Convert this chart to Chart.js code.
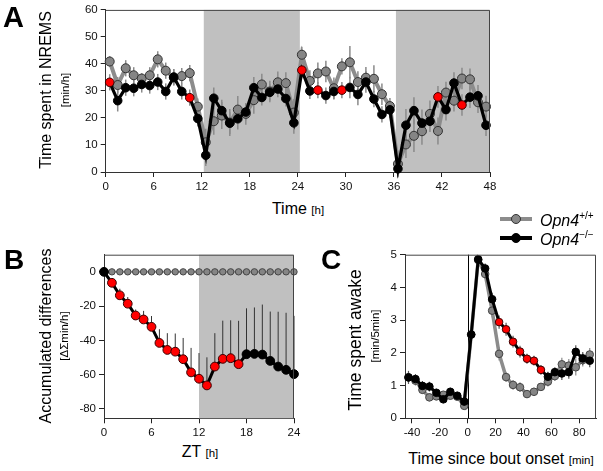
<!DOCTYPE html>
<html><head><meta charset="utf-8">
<script src="https://cdn.jsdelivr.net/npm/chart.js@4/dist/chart.umd.min.js"></script>
<style>
body{margin:0;background:#fff;}
#wrap{position:relative;width:603px;height:471px;overflow:hidden;font-family:"Liberation Sans",Arial,sans-serif;background:#fff;}
canvas{position:absolute;}
.t{position:absolute;white-space:nowrap;color:#000;line-height:1;}
.rot{transform:translate(-50%,-50%) rotate(-90deg);}
.hc{transform:translate(-50%,-50%);}
.big{font-size:16px;}
.sm{font-size:11.5px;}
.let{position:absolute;font-weight:bold;line-height:1;}
</style></head>
<body><div id="wrap">
<canvas id="cA" width="500" height="200" style="left:0;top:0"></canvas>
<canvas id="cB" width="310" height="200" style="left:0;top:240px"></canvas>
<canvas id="cC" width="293" height="200" style="left:310px;top:240px"></canvas>

<div class="let" style="left:3px;top:3px;font-size:29px">A</div>
<div class="let" style="left:4px;top:246px;font-size:28px">B</div>
<div class="let" style="left:321px;top:246px;font-size:28px">C</div>

<div class="t rot big" style="left:46px;top:90px">Time spent in NREMS</div>
<div class="t rot sm" style="left:66px;top:90px">[min/h]</div>
<div class="t hc" style="left:298px;top:209px"><span class="big">Time </span><span class="sm">[h]</span></div>

<div class="t rot big" style="left:46px;top:336px">Accumulated differences</div>
<div class="t rot sm" style="left:65px;top:336px">[ΔΣmin/h]</div>
<div class="t hc" style="left:200px;top:452px"><span class="big">ZT </span><span class="sm">[h]</span></div>

<div class="t rot" style="left:356px;top:340px;font-size:17.5px">Time spent awake</div>
<div class="t rot sm" style="left:376px;top:336px">[min/5min]</div>
<div class="t hc" style="left:501px;top:459px"><span class="big">Time since bout onset </span><span class="sm">[min]</span></div>

<div style="position:absolute;left:500px;top:217px;width:32px;height:4px;background:#8c8c8c"></div>
<div style="position:absolute;left:511px;top:214px;width:8px;height:8px;border-radius:50%;background:#888;border:1px solid #333"></div>
<div class="t" style="left:540px;top:211px;font-size:16px"><i>Opn4</i><sup style="font-size:10px;vertical-align:7px">+/+</sup></div>
<div style="position:absolute;left:500px;top:236px;width:32px;height:3.5px;background:#000"></div>
<div style="position:absolute;left:511px;top:233px;width:8px;height:8px;border-radius:50%;background:#000;border:1px solid #000"></div>
<div class="t" style="left:540px;top:230px;font-size:16px"><i>Opn4</i><sup style="font-size:10px;vertical-align:7px">−/−</sup></div>
</div>
<script>
// ---------- Panel A data ----------
const hoursA = [0.5,1.5,2.5,3.5,4.5,5.5,6.5,7.5,8.5,9.5,10.5,11.5,12.5,13.5,14.5,15.5,16.5,17.5,18.5,19.5,20.5,21.5,22.5,23.5,
  24.5,25.5,26.5,27.5,28.5,29.5,30.5,31.5,32.5,33.5,34.5,35.5,36.5,37.5,38.5,39.5,40.5,41.5,42.5,43.5,44.5,45.5,46.5,47.5];
const wtA = [40.9,32.2,38.4,35.8,34.6,35.8,41.7,37.5,35.0,35.5,36.6,24.2,11.0,18.8,20.9,18.3,23.1,21.5,26.6,32.4,29.8,33.2,32.9,22.0,
  43.4,33.7,36.5,37.2,31.0,39.1,40.6,33.3,34.9,34.5,28.8,24.4,3.0,10.2,13.4,15.1,21.5,15.2,29.4,26.4,34.6,34.3,25.8,24.2];
const wtErrA = [2,3,3,3,2,3,3,3,3,3,3,3,5,5,5,5,5,4,5,4,4,4,4,5,3,4,4,4,4,3,6,4,4,5,4,3,5,5,6,5,5,5,4,4,4,4,4,4];
const koA = [33.2,26.4,31.2,31.0,32.4,32.0,33.3,29.8,35.1,29.8,27.5,19.8,6.2,27.3,22.7,18.1,19.7,22.2,31.2,27.6,29.5,30.7,27.2,18.2,
  37.7,30.0,30.3,28.3,29.8,30.3,31.3,28.7,33.3,27.0,21.3,23.0,1.2,17.3,22.7,18.1,18.8,27.8,23.1,32.9,24.8,27.7,28.2,17.3];
const koErrA = [3,4,3,3,3,3,3,3,3,3,3,3,4,4,4,4,4,3,4,3,3,3,3,4,3,3,3,3,3,3,4,4,4,3,3,3,3,6,5,5,4,4,4,4,4,4,4,4];
const sigA = [0,10,24,26,29,41,44];
const darkA = [[12.25,24.25],[36.25,48]];
const xTicksA = [0,6,12,18,24,30,36,42,48];
const yTicksA = [0,10,20,30,40,50,60];

// ---------- Panel B data ----------
const hoursB = [0,1,2,3,4,5,6,7,8,9,10,11,12,13,14,15,16,17,18,19,20,21,22,23,24];
const wtB = [0,0,0,0,0,0,0,0,0,0,0,0,0,0,0,0,0,0,0,0,0,0,0,0,0];
const koB = [0,-6.4,-13.7,-18.6,-25.5,-27.8,-32.1,-41.5,-45.6,-46.6,-51.0,-58.7,-62.4,-66.3,-55.3,-50.8,-50.4,-53.9,-48.1,-47.9,-48.3,-52.0,-55.3,-57.2,-59.7];
const koErrB = [0,2.4,3.8,3.9,3.5,5.0,6.3,8.0,9.8,10.6,12.4,14.3,15.0,16.4,19.5,22.3,22.1,25.3,26.8,27.1,29.2,28.8,32.0,33.3,34.0];
const sigB = [1,2,3,4,5,6,7,8,9,10,11,12,13,14,15,16,17];
const darkB = [[12,24]];
const xTicksB = [0,6,12,18,24];
const yTicksB = [0,-20,-40,-60,-80];

// ---------- Panel C data ----------
const minC = [-42.5,-37.5,-32.5,-27.5,-22.5,-17.5,-12.5,-7.5,-2.5,2.5,7.5,12.5,17.5,22.5,27.5,32.5,37.5,42.5,47.5,52.5,57.5,62.5,67.5,72.5,77.5,82.5,87.5];
const wtC = [1.25,1.15,0.87,0.64,0.67,0.72,0.69,0.66,0.38,2.56,4.84,4.41,3.29,1.97,1.26,1.02,0.95,0.74,0.81,0.96,1.12,1.29,1.65,1.61,1.56,1.78,1.95];
const wtErrC = [0.15,0.15,0.12,0.12,0.1,0.1,0.1,0.1,0.08,0.15,0.1,0.15,0.2,0.2,0.15,0.15,0.15,0.12,0.12,0.12,0.15,0.15,0.2,0.2,0.25,0.2,0.2];
const koC = [1.25,1.20,0.99,0.97,0.78,0.58,0.81,0.69,0.51,2.56,4.86,4.58,3.64,2.94,2.72,2.34,2.04,1.82,1.76,1.48,1.27,1.41,1.37,1.41,2.03,1.83,1.76];
const koErrC = [0.2,0.15,0.15,0.15,0.12,0.12,0.12,0.12,0.1,0.15,0.1,0.15,0.2,0.2,0.2,0.18,0.18,0.15,0.15,0.15,0.15,0.15,0.2,0.2,0.2,0.2,0.2];
const sigC = [13,14,15,16,17,18,19];
const xTicksC = [-40,-20,0,20,40,60,80];
const yTicksC = [0,1,2,3,4,5];

// ---------- helpers ----------
const FONT = '"Liberation Sans", Arial, sans-serif';
const pts = (xs, ys) => xs.map((x, i) => ({x, y: ys[i]}));
const colorsFor = (n, sig, base, hi) => Array.from({length:n}, (_, i) => sig.includes(i) ? hi : base);

const deco = {
  id: 'deco',
  beforeDatasetsDraw(chart, args, o) {
    const {ctx, chartArea: a, scales: {x, y}} = chart;
    ctx.save();
    (o.bands || []).forEach(b => {
      const x0 = Math.max(x.getPixelForValue(b[0]), a.left);
      const x1 = Math.min(x.getPixelForValue(b[1]), a.right);
      ctx.fillStyle = '#c0c0c0';
      ctx.fillRect(x0, a.top, x1 - x0, a.bottom - a.top);
    });
    if (o.vline !== undefined) {
      const px = Math.round(x.getPixelForValue(o.vline)) + 0.5;
      ctx.strokeStyle = '#000'; ctx.lineWidth = 1;
      ctx.beginPath(); ctx.moveTo(px, a.top); ctx.lineTo(px, a.bottom); ctx.stroke();
    }
    chart.data.datasets.slice().reverse().forEach(ds => {
      if (!ds.err) return;
      ctx.strokeStyle = ds.errColor; ctx.lineWidth = ds.errWidth;
      ds.data.forEach((p, j) => {
        const e = ds.err[j]; if (!e) return;
        const px = x.getPixelForValue(p.x);
        const yUp = y.getPixelForValue(p.y + e);
        const yDn = y.getPixelForValue(ds.errUpOnly ? p.y : p.y - e);
        ctx.beginPath(); ctx.moveTo(px, yUp); ctx.lineTo(px, yDn); ctx.stroke();
      });
    });
    ctx.restore();
  },
  afterDraw(chart, args, o) {
    const {ctx, chartArea: a} = chart;
    ctx.save();
    ctx.strokeStyle = o.frame || '#444'; ctx.lineWidth = 1;
    ctx.beginPath();
    ctx.moveTo(a.left, a.top + 0.5); ctx.lineTo(a.right - 0.5, a.top + 0.5); ctx.lineTo(a.right - 0.5, a.bottom);
    ctx.stroke();
    ctx.restore();
  }
};

function makeScales(xmin, xmax, xt, ymin, ymax, yt, yW, xH) {
  const common = {
    grid: {drawOnChartArea: false, drawTicks: true, tickLength: 5, color: '#222'},
    border: {display: true, color: '#333', width: 1},
    ticks: {color: '#111', font: {family: FONT, size: 11.5}, padding: 3, autoSkip: false, maxRotation: 0}
  };
  return {
    x: Object.assign({}, common, {type: 'linear', min: xmin, max: xmax,
      afterBuildTicks: s => { s.ticks = xt.map(v => ({value: v})); },
      afterFit: s => { s.height = xH; }}),
    y: Object.assign({}, common, {type: 'linear', min: ymin, max: ymax,
      afterBuildTicks: s => { s.ticks = yt.map(v => ({value: v})); },
      afterFit: s => { s.width = yW; }})
  };
}

function baseOpts(pad, scales, decoOpts) {
  return {
    responsive: false, animation: false, devicePixelRatio: 1,
    layout: {padding: pad},
    scales,
    plugins: {legend: {display: false}, tooltip: {enabled: false}, deco: decoOpts},
    elements: {line: {tension: 0}}
  };
}

// ---------- Panel A ----------
new Chart(document.getElementById('cA'), {
  type: 'line',
  data: {datasets: [
    {data: pts(hoursA, koA), err: koErrA, errColor: '#8a8a8a', errWidth: 1.5,
     borderColor: '#000', borderWidth: 3.2, pointRadius: 4.3, pointBorderWidth: 1,
     pointBackgroundColor: colorsFor(hoursA.length, sigA, '#000', '#ff0000'),
     pointBorderColor: colorsFor(hoursA.length, sigA, '#000', '#3a0000'), clip: false},
    {data: pts(hoursA, wtA), err: wtErrA, errColor: '#8a8a8a', errWidth: 1.5,
     borderColor: '#8c8c8c', borderWidth: 4, pointRadius: 4.5, pointBorderWidth: 1,
     pointBackgroundColor: '#858585', pointBorderColor: '#333', clip: false}
  ]},
  options: baseOpts({top: 8, right: 10, left: 0, bottom: 0},
    makeScales(0, 48, xTicksA, 0, 60, yTicksA, 105.7, 28), {bands: darkA}),
  plugins: [deco]
});

// ---------- Panel B ----------
new Chart(document.getElementById('cB'), {
  type: 'line',
  data: {datasets: [
    {data: pts(hoursB, koB), err: koErrB, errColor: '#333', errWidth: 1, errUpOnly: true,
     borderColor: '#000', borderWidth: 3, pointRadius: 4.4, pointBorderWidth: 1,
     pointBackgroundColor: colorsFor(hoursB.length, sigB, '#000', '#ff0000'),
     pointBorderColor: colorsFor(hoursB.length, sigB, '#000', '#3a0000'), clip: false},
    {data: pts(hoursB, wtB),
     borderColor: '#8c8c8c', borderWidth: 2, pointRadius: 3.2, pointBorderWidth: 1,
     pointBackgroundColor: '#858585', pointBorderColor: '#444', clip: false}
  ]},
  options: baseOpts({top: 14.7, right: 16, left: 0, bottom: 0},
    makeScales(0, 24, xTicksB, -85.5, 10, yTicksB, 104, 21.7), {bands: darkB}),
  plugins: [deco]
});

// ---------- Panel C ----------
new Chart(document.getElementById('cC'), {
  type: 'line',
  data: {datasets: [
    {data: pts(minC, koC), err: koErrC, errColor: '#555', errWidth: 1.2,
     borderColor: '#000', borderWidth: 3, pointRadius: 3.8, pointBorderWidth: 1,
     pointBackgroundColor: colorsFor(minC.length, sigC, '#000', '#ff0000'),
     pointBorderColor: colorsFor(minC.length, sigC, '#000', '#3a0000'), clip: false},
    {data: pts(minC, wtC), err: wtErrC, errColor: '#8a8a8a', errWidth: 1.2,
     borderColor: '#8c8c8c', borderWidth: 3.5, pointRadius: 3.8, pointBorderWidth: 1,
     pointBackgroundColor: '#858585', pointBorderColor: '#444', clip: false}
  ]},
  options: baseOpts({top: 14.7, right: 7, left: 0, bottom: 0},
    makeScales(-45, 92, xTicksC, 0, 5, yTicksC, 95, 21.7), {vline: 0}),
  plugins: [deco]
});
</script>
</body></html>
